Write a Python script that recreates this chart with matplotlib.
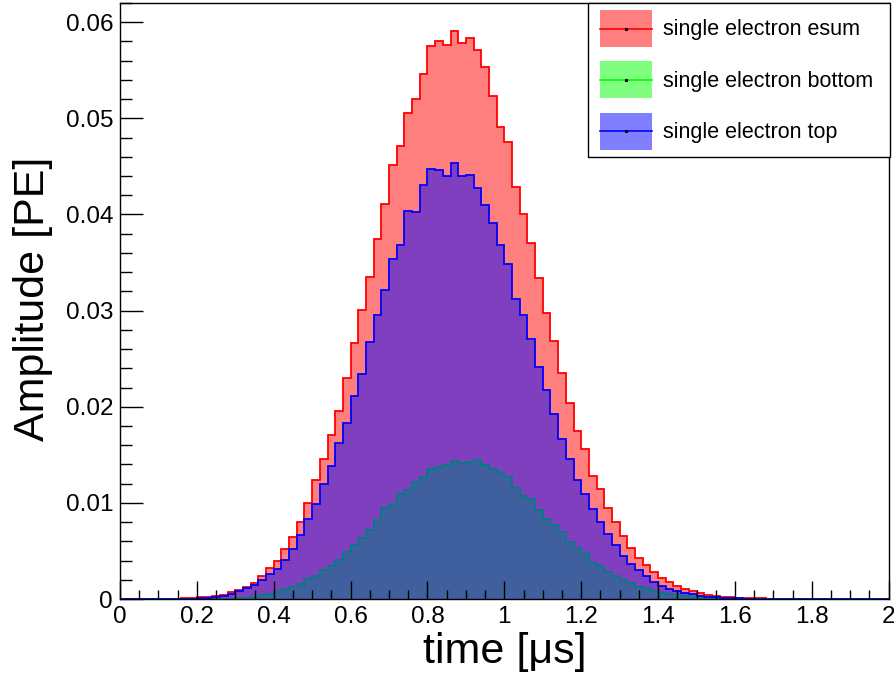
import matplotlib
matplotlib.use("Agg")
import matplotlib.pyplot as plt
import numpy as np
from matplotlib.patches import Patch, Rectangle
from matplotlib.lines import Line2D
from matplotlib.legend_handler import HandlerBase
from matplotlib.ticker import MultipleLocator, FuncFormatter

plt.rcParams['font.family'] = ['Liberation Sans', 'DejaVu Sans']

# 100 bins from 0 to 2 us
edges = np.linspace(0, 2, 101)

esum = [0, 0, 0, 0, 0, 0.00001, 0.00002, 0.00004, 0.00007, 0.00011,
        0.00016, 0.00023, 0.00031, 0.00045, 0.00073, 0.00094, 0.00128, 0.0017, 0.00243, 0.0032,
        0.0040, 0.0052, 0.0064, 0.0080, 0.0100, 0.0124, 0.0146, 0.0171, 0.0196, 0.0230,
        0.0266, 0.0301, 0.0335, 0.0374, 0.0411, 0.0451, 0.0471, 0.0506, 0.0520, 0.0546,
        0.0575, 0.0580, 0.0576, 0.0591, 0.0578, 0.0584, 0.0571, 0.0553, 0.0523, 0.0491,
        0.0475, 0.0429, 0.0401, 0.0370, 0.0334, 0.0297, 0.0268, 0.0235, 0.0204, 0.0175,
        0.0156, 0.0128, 0.0114, 0.0095, 0.0080, 0.0066, 0.0053, 0.0043, 0.0035, 0.0028,
        0.0022, 0.00177, 0.0014, 0.00105, 0.00082, 0.0006, 0.00042, 0.0003, 0.00024, 0.00017,
        0.00014, 0.0001, 0.00008, 0.00006, 0.00004, 0.00003, 0.00002, 0.00002, 0.00001, 0.00001,
        0.00001, 0.00001, 0.00001, 0, 0, 0, 0, 0, 0, 0]

top = [0, 0, 0, 0, 0, 0.00001, 0.00001, 0.00002, 0.00004, 0.00005,
       0.00007, 0.0001, 0.00021, 0.00031, 0.00052, 0.0008, 0.00111, 0.00149, 0.00198, 0.00264,
       0.00313, 0.00406, 0.00517, 0.00667, 0.0083, 0.0099, 0.0120, 0.0138, 0.0162, 0.0183,
       0.0211, 0.0234, 0.0267, 0.0295, 0.0321, 0.0354, 0.0368, 0.0404, 0.0403, 0.0431,
       0.0447, 0.0446, 0.0440, 0.0454, 0.0440, 0.0441, 0.0428, 0.0410, 0.0391, 0.0368,
       0.0349, 0.0312, 0.0295, 0.0270, 0.0241, 0.0217, 0.0192, 0.0166, 0.0146, 0.0124,
       0.0109, 0.0094, 0.0080, 0.0068, 0.0056, 0.0045, 0.0036, 0.0030, 0.0024, 0.0018,
       0.0014, 0.00104, 0.00083, 0.00063, 0.00049, 0.00035, 0.00024, 0.00017, 0.00014, 0.0001,
       0.00007, 0.00005, 0.00004, 0.00003, 0.00002, 0.00001, 0.00001, 0.00001, 0.00001, 0.00001,
       0.00001, 0, 0, 0, 0, 0, 0, 0, 0, 0]

bottom = [0, 0, 0, 0, 0, 0, 0, 0, 0, 0,
          0.00001, 0.00001, 0.00002, 0.00003, 0.00005, 0.00007, 0.0001, 0.00024, 0.00038, 0.00049,
          0.00076, 0.00108, 0.00125, 0.00153, 0.00208, 0.0024, 0.00299, 0.00347, 0.00406, 0.00486,
          0.00559, 0.00639, 0.00715, 0.00819, 0.00948, 0.00986, 0.0109, 0.01135, 0.01212, 0.01274,
          0.01351, 0.01368, 0.01399, 0.01438, 0.01417, 0.01427, 0.01441, 0.01399, 0.01351, 0.01326,
          0.01274, 0.01153, 0.01076, 0.01038, 0.00927, 0.0083, 0.00767, 0.00701, 0.0059, 0.00535,
          0.00476, 0.00378, 0.00347, 0.00285, 0.00236, 0.00194, 0.00163, 0.00128, 0.00111, 0.00087,
          0.00066, 0.00052, 0.00038, 0.00031, 0.00021, 0.00014, 0.0001, 0.00007, 0.00005, 0.00004,
          0.00003, 0.00002, 0.00001, 0.00001, 0.00001, 0.00001, 0.00001, 0, 0, 0,
          0, 0, 0, 0, 0, 0, 0, 0, 0, 0]

labels = ["single electron esum", "single electron bottom", "single electron top"]
colors = ["#ff0000", "#00ff00", "#0000ff"]
series = [esum, bottom, top]


class Swatch(HandlerBase):
    # filled box with the line colour through the middle and a tiny marker, ROOT style
    def __init__(self, color, inset=3.6):
        super().__init__()
        self.color = color
        self.inset = inset

    def create_artists(self, legend, orig_handle, xdescent, ydescent,
                       width, height, fontsize, trans):
        x0 = self.inset - xdescent
        x1 = width - xdescent
        yc = height / 2 - ydescent
        rect = Rectangle((x0, -ydescent), x1 - x0, height, facecolor=self.color,
                         alpha=0.5, edgecolor='none', transform=trans)
        line = Line2D([x0, x1], [yc, yc], color=self.color, lw=1.2, transform=trans)
        dot = Line2D([(x0 + x1) / 2], [yc], marker='s', ms=1.3, color='k',
                     lw=0, transform=trans)
        return [rect, line, dot]


fig = plt.figure(figsize=(8.95, 6.81), dpi=100)
ax = fig.add_axes([120 / 895, 1 - 599 / 681, 768.7 / 895, 596 / 681])

handles = []
hmap = {}
for vals, col in zip(series, colors):
    ax.stairs(vals, edges, fill=True, facecolor=col, alpha=0.5, linewidth=0)
    ax.stairs(vals, edges, color=col, linewidth=1.3)
    h = Patch(facecolor=col)
    handles.append(h)
    hmap[h] = Swatch(col)

ax.set_xlim(0, 2)
ax.set_ylim(0, 0.062)

fmt = FuncFormatter(lambda v, p: f"{v:g}")
ax.xaxis.set_major_locator(MultipleLocator(0.2))
ax.xaxis.set_minor_locator(MultipleLocator(0.05))
ax.yaxis.set_major_locator(MultipleLocator(0.01))
ax.yaxis.set_minor_locator(MultipleLocator(0.002))
ax.xaxis.set_major_formatter(fmt)
ax.yaxis.set_major_formatter(fmt)
ax.tick_params(which='both', direction='in', width=1, labelsize=17.5, colors='k')
ax.tick_params(axis='x', which='major', length=13, pad=5)
ax.tick_params(axis='x', which='minor', length=6.5)
ax.tick_params(axis='y', which='major', length=16.5, pad=5)
ax.tick_params(axis='y', which='minor', length=8.5)
for s in ax.spines.values():
    s.set_linewidth(1)

ax.set_xlabel("time [\u03bcs]", fontsize=31)
ax.set_ylabel("Amplitude [PE]", fontsize=31)
ax.xaxis.set_label_coords(0.5, -0.056)
ax.yaxis.set_label_coords(-0.087, 0.504)

leg = ax.legend(handles, labels, handler_map=hmap,
                loc='upper right', bbox_to_anchor=(0.6088, 0.5, 0.3929, 0.5),
                mode='expand', borderaxespad=0,
                fontsize=15.5, frameon=True, fancybox=False, edgecolor='k',
                framealpha=1, handlelength=2.65, handleheight=2.27,
                labelspacing=0.66, borderpad=0.33, handletextpad=0.5)
leg.get_frame().set_linewidth(1)

fig.savefig("out.png", dpi=100)
